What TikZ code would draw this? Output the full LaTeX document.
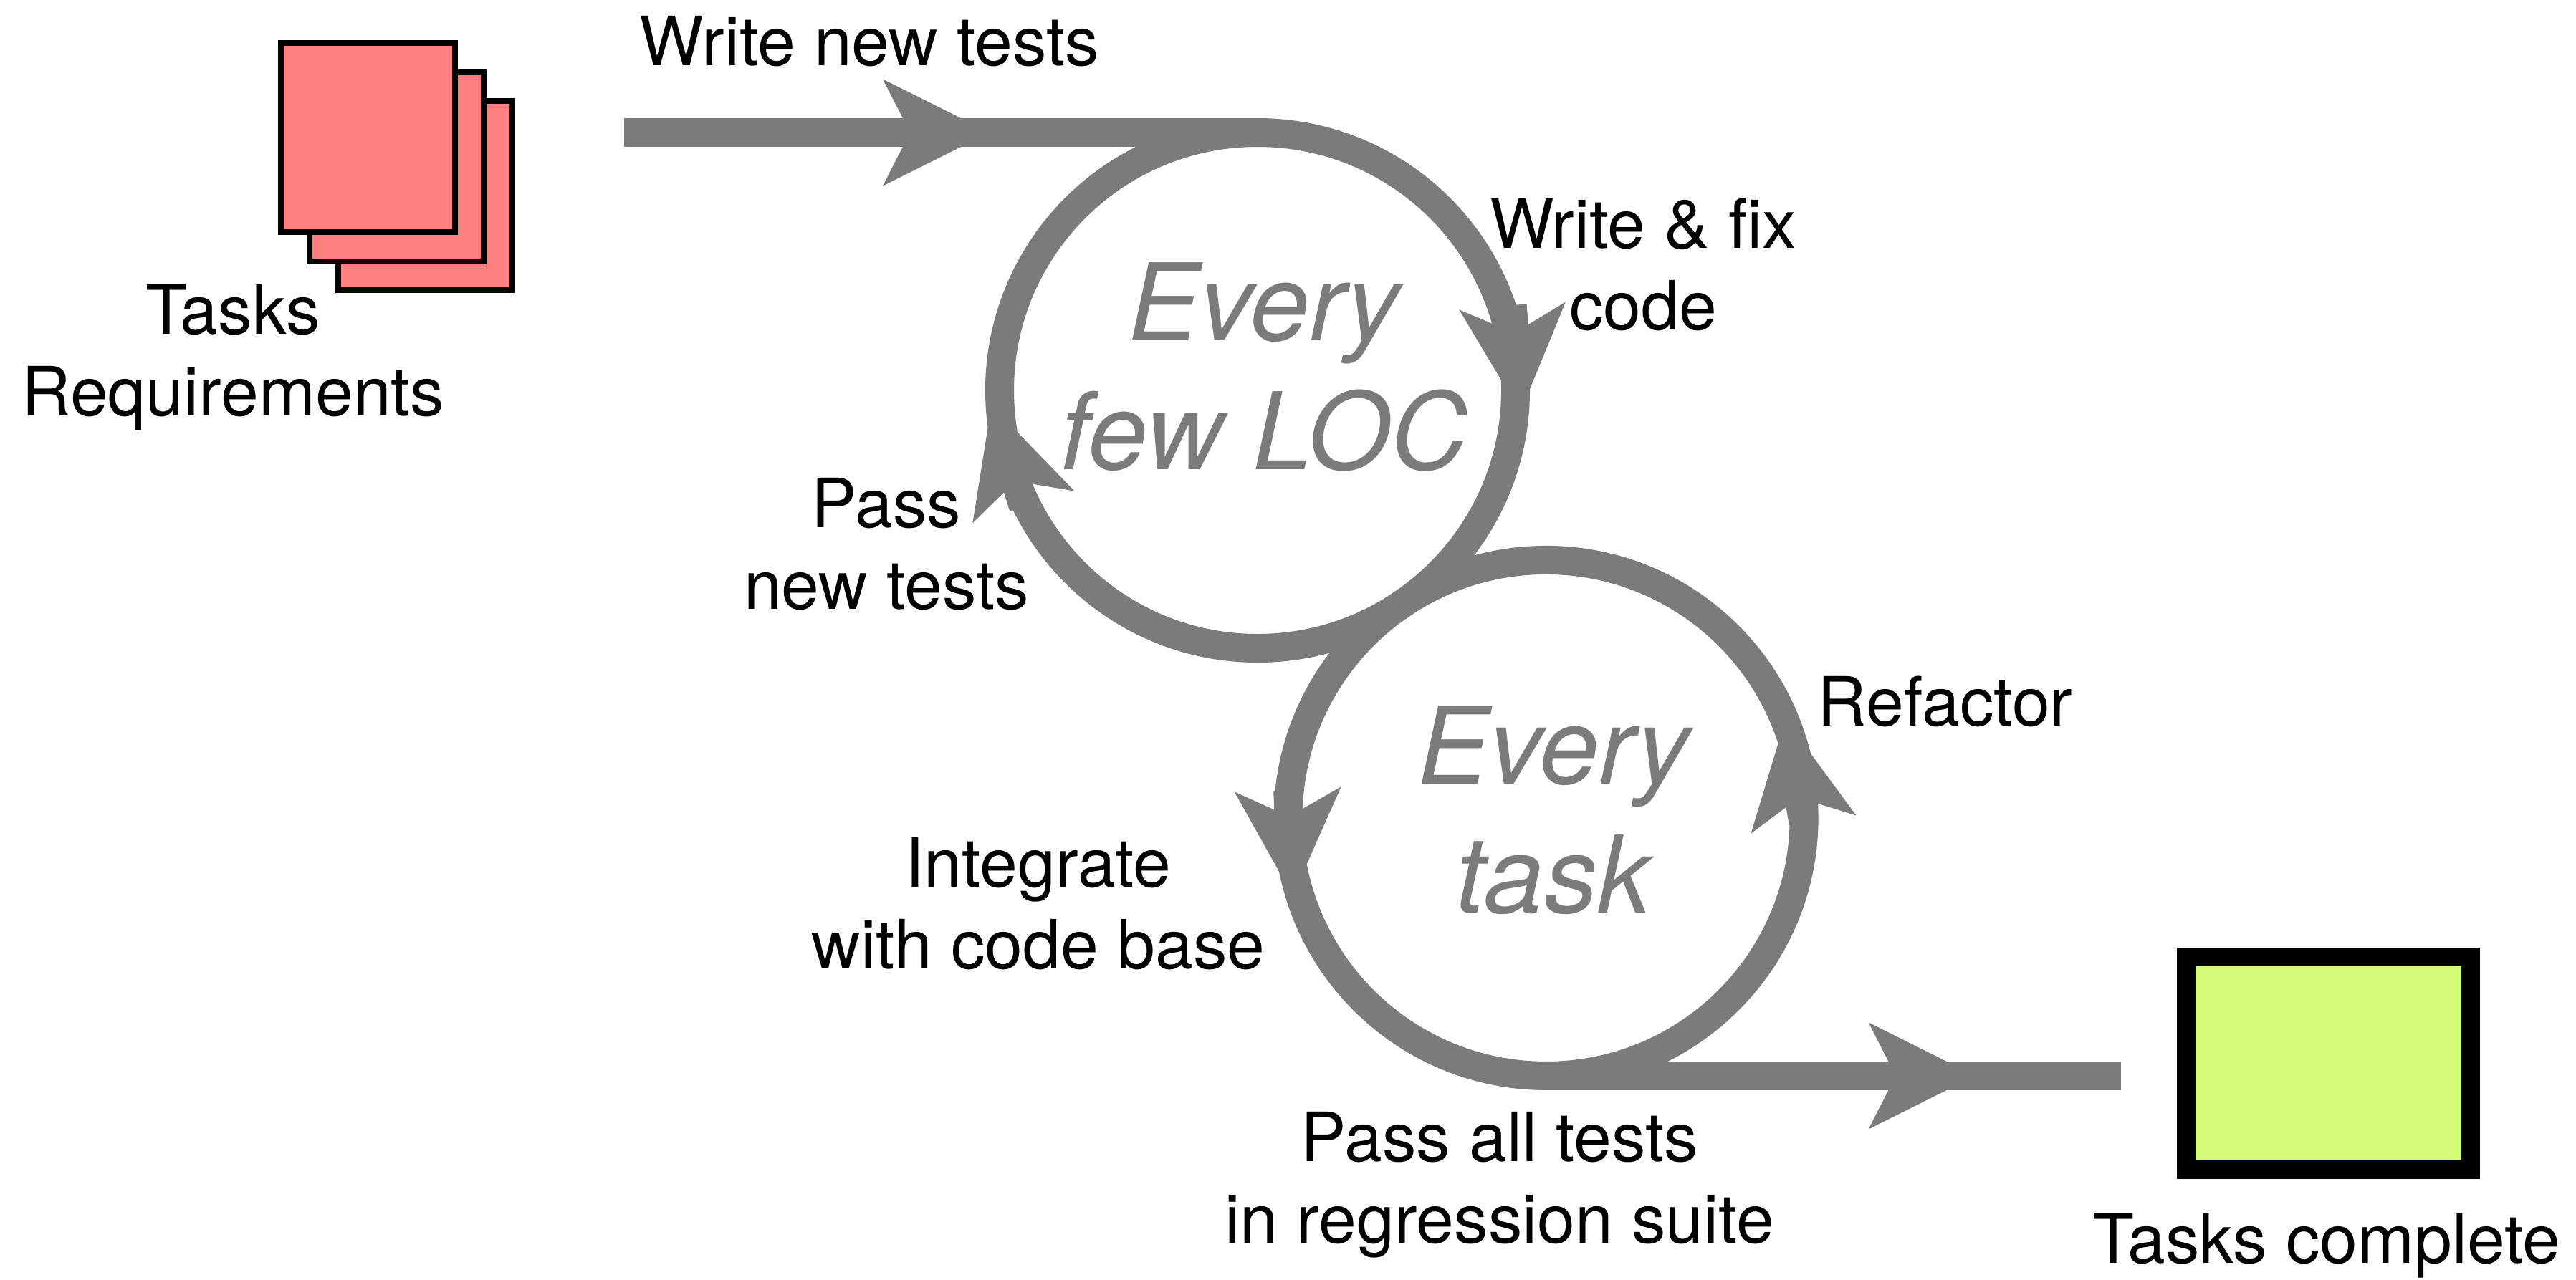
\documentclass[tikz,border=0pt]{standalone}
\usepackage{fontspec}
\setmainfont{TeX Gyre Heros}
\usepackage{tikz}
\usetikzlibrary{calc,arrows.meta,positioning}
\definecolor{pagered}{RGB}{255,128,128}
\definecolor{donegreen}{RGB}{213,251,122}
\definecolor{loopgray}{RGB}{123,123,123}
\tikzset{
    flow/.style={draw=loopgray, line width=0.4cm},
    flowhead/.style={flow, -{Stealth[length=1.49cm, width=1.49cm, inset=0.38cm, line width=0pt]}},
    page/.style={draw=black, line width=0.08cm, fill=pagered, inner sep=0pt, minimum width=2.43cm, minimum height=2.64cm},
    donebox/.style={draw=black, line width=0.26cm, fill=donegreen, inner sep=0pt, minimum width=3.97cm, minimum height=2.97cm},
    note/.style={font=\fontsize{27}{32.4}\selectfont, align=center, inner sep=0pt, anchor=base},
    loopname/.style={font=\fontsize{42.5}{51}\selectfont\itshape, text=loopgray, align=center, inner sep=0pt, anchor=base}
}

\begin{document}
\begin{tikzpicture}
            \useasboundingbox (0,0) rectangle (35.95,-17.86);
            \def\r{3.6}
            \coordinate (c1) at (17.55,-5.45);
            \coordinate (c2) at ($(c1)+(-56:2*\r)$);
            \coordinate (top1) at ($(c1)+(0,\r)$);
            \coordinate (bot2) at ($(c2)+(0,-\r)$);
            \coordinate (in) at ($(top1)+(-8.84,0)$);
            \coordinate (out) at ($(bot2)+(8.02,0)$);
            %Arrow heads (back, tip)
            \coordinate (h1b) at ($(in)+(3.61,0)$);
            \coordinate (h1t) at ($(in)+(5.10,0)$);
            \coordinate (h2b) at ($(c1)+(18.5:3.75)$);
            \coordinate (h2t) at ($(c1)+(-4.75:3.68)$);
            \coordinate (h3b) at ($(c1)+(206.5:3.65)$);
            \coordinate (h3t) at ($(c1)+(183.2:3.72)$);
            \coordinate (h4b) at ($(c2)+(173.9:3.625)$);
            \coordinate (h4t) at ($(c2)+(197.1:3.70)$);
            \coordinate (h5b) at ($(c2)+(-1.1:3.59)$);
            \coordinate (h5t) at ($(c2)+(22.4:3.614)$);
            \coordinate (h6b) at ($(bot2)+(4.50,0)$);
            \coordinate (h6t) at ($(bot2)+(5.99,0)$);

            %Task pages
            \foreach \k in {2,1,0}
                \node[page] (page\k) at ($(5.135,-1.92)+(0.4*\k,-0.405*\k)$) {};
            \node[note] (req) at (3.25,-5.80) {Tasks\\Requirements};

            %Loops
            \draw[flow] (in) -- (top1);
            \draw[flow] (c1) circle (\r);
            \draw[flow] (c2) circle (\r);
            \draw[flow] (bot2) -- (out);
            \foreach \h in {1,...,6}
                \draw[flowhead] (h\h b) -- (h\h t);

            %Done box
            \node[donebox] (done) at (32.495,-14.845) {};
            \node[note] (fin) at (32.47,-17.63) {Tasks complete};

            %Labels (base = last line)
            \node[loopname] (loc) at (17.64,-6.55) {Every\\few LOC};
            \node[loopname] (tsk) at (21.68,-12.74) {Every\\task};
            \node[note, anchor=base west] (wnt) at (8.92,-0.91) {Write new tests};
            \node[note] (wfc) at (22.93,-4.60) {Write \& fix\\code};
            \node[note] (pnt) at (12.37,-8.50) {Pass\\new tests};
            \node[note] (ref) at (27.145,-10.13) {Refactor};
            \node[note] (itg) at (14.49,-13.52) {Integrate\\with code base};
            \node[note] (pat) at (20.93,-17.35) {Pass all tests\\in regression suite};
\end{tikzpicture}
\end{document}
